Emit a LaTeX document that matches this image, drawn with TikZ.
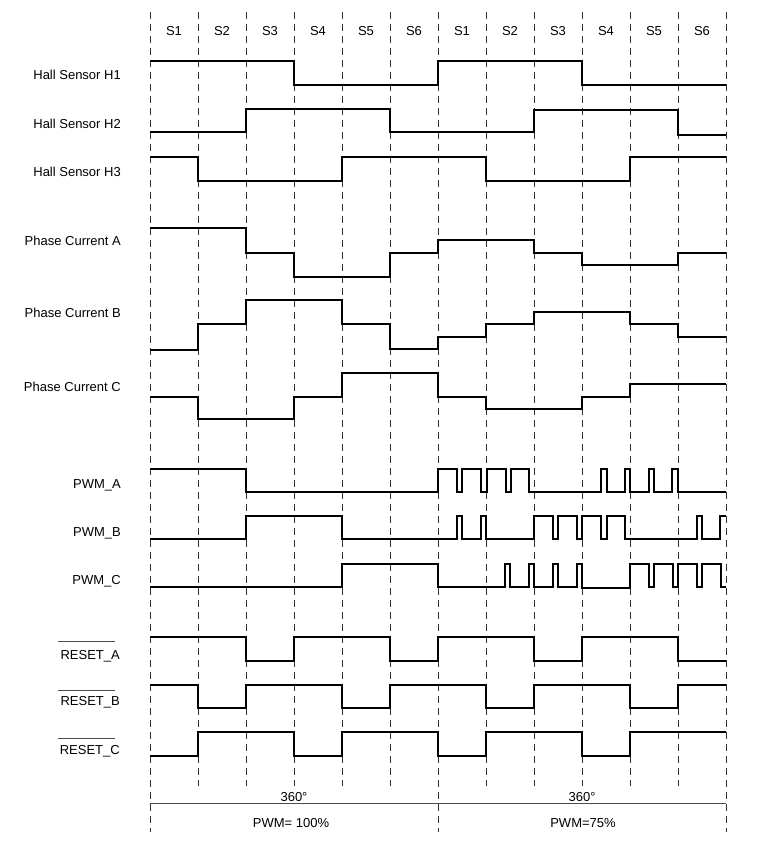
\documentclass[tikz,border=0pt]{standalone}
\usepackage{fontspec}
\setmainfont{Liberation Sans}
\begin{document}
\begin{tikzpicture}[x=1pt,y=-1pt,
  sig/.style={line width=1.8pt, line join=miter, black},
  gridline/.style={line width=1pt, black!80, dash pattern=on 7pt off 5pt},
  lab/.style={anchor=east, inner sep=0pt, font=\fontsize{13}{15}\selectfont},
  ctr/.style={inner sep=0pt, font=\fontsize{13}{15}\selectfont},
  bar/.style={line width=0.9pt, black!70}]
\useasboundingbox (0,0) rectangle (760,842);
% dashed sector lines
\foreach \i in {1,2,3,4,5,7,8,9,10,11}
  \draw[gridline] (150+48*\i,12) -- (150+48*\i,786);
\foreach \i in {0,6,12}
  \draw[gridline] (150+48*\i,12) -- (150+48*\i,832);
% sector labels
\foreach \s [count=\i from 0] in {S1,S2,S3,S4,S5,S6,S1,S2,S3,S4,S5,S6}
  \node[ctr] (sec\i) at (174+48*\i,31) {\s};
% row labels
\node[lab] (h1) at (121,75) {Hall Sensor H1};
\node[lab] (h2) at (121,124) {Hall Sensor H2};
\node[lab] (h3) at (121,172) {Hall Sensor H3};
\node[lab] (pa) at (121,241) {Phase Current A};
\node[lab] (pb) at (121,313) {Phase Current B};
\node[lab] (pc) at (121,387) {Phase Current C};
\node[lab] (wa) at (121,485) {PWM\_A};
\node[lab] (wb) at (121,533) {PWM\_B};
\node[lab] (wc) at (121,581) {PWM\_C};
\node[lab] (ra) at (120,656) {RESET\_A};
\node[lab] (rb) at (120,702) {RESET\_B};
\node[lab] (rc) at (120,751) {RESET\_C};
\draw[bar] (58,641) -- (115,641);
\draw[bar] (58,690) -- (115,690);
\draw[bar] (58,738) -- (115,738);
% Hall sensors
\draw[sig] (150,61) -| (294,85) -| (438,61) -| (582,85) -- (726,85);
\draw[sig] (150,132) -| (246,109) -| (390,132) -| (534,110) -| (678,135) -- (726,135);
\draw[sig] (150,157) -| (198,181) -| (342,157) -| (486,181) -| (630,157) -- (726,157);
% phase currents
\draw[sig] (150,228) -| (246,253) -| (294,277) -| (390,253) -| (438,240) -| (534,253) -| (582,265) -| (678,253) -- (726,253);
\draw[sig] (150,350) -| (198,324) -| (246,300) -| (342,324) -| (390,349) -| (438,337) -| (486,324) -| (534,312) -| (630,324) -| (678,337) -- (726,337);
\draw[sig] (150,397) -| (198,419) -| (294,397) -| (342,373) -| (438,397) -| (486,409) -| (582,397) -| (630,384) -- (726,384);
% PWM
\draw[sig] (150,469) -| (246,492) -| (438,469) -| (457,492) -| (462,469) -| (481,492) -| (487,469) -| (506,492) -| (511,469) -| (529,492) -| (601,469) -| (607,492) -| (625,469) -| (630,492) -| (649,469) -| (654,492) -| (672,469) -| (678,492) -- (726,492);
\draw[sig] (150,539) -| (246,516) -| (342,539) -| (457,516) -| (462,539) -| (481,516) -| (486,539) -| (534,516) -| (553,539) -| (558,516) -| (577,539) -| (582,516) -| (601,539) -| (607,516) -| (625,539) -| (697,516) -| (702,539) -| (720,516) -- (726,516);
\draw[sig] (150,587) -| (342,564) -| (438,587) -| (505,564) -| (510,587) -| (529,564) -| (534,587) -| (553,564) -| (558,587) -| (577,564) -| (582,588) -| (630,564) -| (649,587) -| (654,564) -| (673,587) -| (678,564) -| (697,587) -| (702,564) -| (721,587) -- (726,587);
% RESET
\draw[sig] (150,637) -| (246,661) -| (294,637) -| (390,661) -| (438,637) -| (534,661) -| (582,637) -| (678,661) -- (726,661);
\draw[sig] (150,685) -| (198,708) -| (246,685) -| (342,708) -| (390,685) -| (486,708) -| (534,685) -| (630,708) -| (678,685) -- (726,685);
\draw[sig] (150,756) -| (198,732) -| (294,756) -| (342,732) -| (438,756) -| (486,732) -| (582,756) -| (630,732) -- (726,732);
% bottom
\draw[bar] (150,803) -- (726,803);
\node[ctr] (deg1) at (294,797) {360°};
\node[ctr] (deg2) at (582,797) {360°};
\node[ctr] (pw1) at (291,823) {PWM= 100\%};
\node[ctr] (pw2) at (583,823) {PWM=75\%};
\end{tikzpicture}
\end{document}
